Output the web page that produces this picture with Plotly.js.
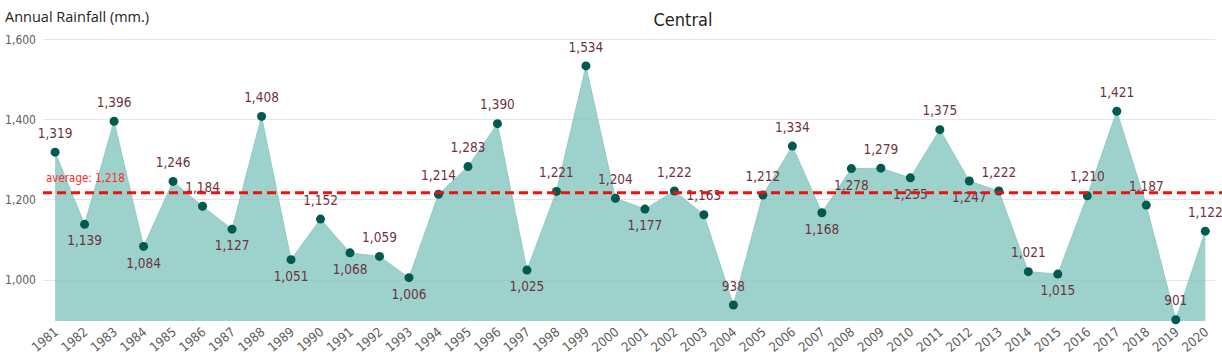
<!DOCTYPE html>
<html>
<head>
<meta charset="utf-8">
<script src="https://cdn.plot.ly/plotly-3.0.1.min.js"></script>
<style>html,body{margin:0;padding:0;background:#fff;}#chart{width:1222px;height:356px;}</style>
</head>
<body>
<div id="chart"></div>
<script>
const years = ["1981","1982","1983","1984","1985","1986","1987","1988","1989","1990",
  "1991","1992","1993","1994","1995","1996","1997","1998","1999","2000",
  "2001","2002","2003","2004","2005","2006","2007","2008","2009","2010",
  "2011","2012","2013","2014","2015","2016","2017","2018","2019","2020"];
const rainfall = [1319,1139,1396,1084,1246,1184,1127,1408,1051,1152,
  1068,1059,1006,1214,1283,1390,1025,1221,1534,1204,
  1177,1222,1163,938,1212,1334,1168,1278,1279,1255,
  1375,1247,1222,1021,1015,1210,1421,1187,901,1122];
const labelPos = ["t","b","t","b","t","t","b","t","b","t",
  "b","t","b","t","t","t","b","t","t","t",
  "b","t","t","t","t","t","b","b","t","b",
  "t","b","t","t","b","t","t","t","t","t"];
const average = 1218;
const yTicks = [1000,1200,1400,1600];

const fmt = v => v.toLocaleString('en-US');
const textpos = labelPos.map(p => p === "t" ? "top center" : "bottom center");
const condensed = 'DejaVu Sans Condensed, Roboto, sans-serif';

const traces = [
  {
    x: years, y: rainfall, type: 'scatter', mode: 'lines',
    fill: 'tozeroy', fillcolor: 'rgba(132,198,190,0.8)',
    line: {color: 'rgba(132,198,190,0.8)', width: 1},
    hoverinfo: 'skip', showlegend: false
  },
  {
    x: years, y: rainfall, type: 'scatter', mode: 'markers',
    marker: {color: '#01594f', size: 9},
    showlegend: false, cliponaxis: false
  },
  {
    x: years, y: rainfall, type: 'scatter', mode: 'markers+text',
    marker: {color: 'rgba(0,0,0,0)', size: 16},
    text: rainfall.map(fmt), textposition: textpos,
    textfont: {family: condensed, size: 13.5, color: '#6e3340'},
    showlegend: false, cliponaxis: false
  }
];

const layout = {
  width: 1222, height: 356,
  margin: {l: 43, r: 7, t: 30, b: 35},
  paper_bgcolor: '#fff', plot_bgcolor: '#fff',
  title: {text: 'Central', x: 683/1222, xanchor: 'center', xref: 'container', y: 1 - 20/356, yanchor: 'middle', yref: 'container',
    font: {family: condensed, size: 18, color: '#252423'}},
  xaxis: {
    type: 'category', range: [-0.41, 39.33],
    tickangle: -40, showgrid: false, zeroline: false, showline: false,
    ticks: '', tickfont: {family: condensed, size: 13, color: '#605e5c'},
    fixedrange: true
  },
  yaxis: {
    range: [898, 1623.5], tickvals: yTicks, ticktext: yTicks.map(fmt),
    showgrid: true, gridcolor: '#e6e6e6', gridwidth: 1, zeroline: false, showline: false,
    ticks: '', tickfont: {family: condensed, size: 12, color: '#605e5c'},
    ticklabelstandoff: 6, layer: 'above traces', fixedrange: true
  },
  shapes: [{
    type: 'line', xref: 'paper', yref: 'y', x0: 0, x1: 1.006, y0: average, y1: average,
    line: {color: '#ee1111', width: 3, dash: '9px,5px'}
  }],
  annotations: [
    {text: 'Annual Rainfall (mm.)', xref: 'paper', yref: 'paper', x: -40/1172, y: 1 + 13/291,
      xanchor: 'left', yanchor: 'middle', showarrow: false,
      font: {family: 'Open Sans, sans-serif', size: 14.5, color: '#252423'}},
    {text: 'average: ' + fmt(average), xref: 'paper', yref: 'y', x: 0.0005, y: average,
      xanchor: 'left', yanchor: 'bottom', yshift: 6, showarrow: false,
      font: {family: condensed, size: 11.5, color: '#ff2a2a'}}
  ]
};

Plotly.newPlot('chart', traces, layout, {displayModeBar: false, staticPlot: true});
</script>
</body>
</html>
